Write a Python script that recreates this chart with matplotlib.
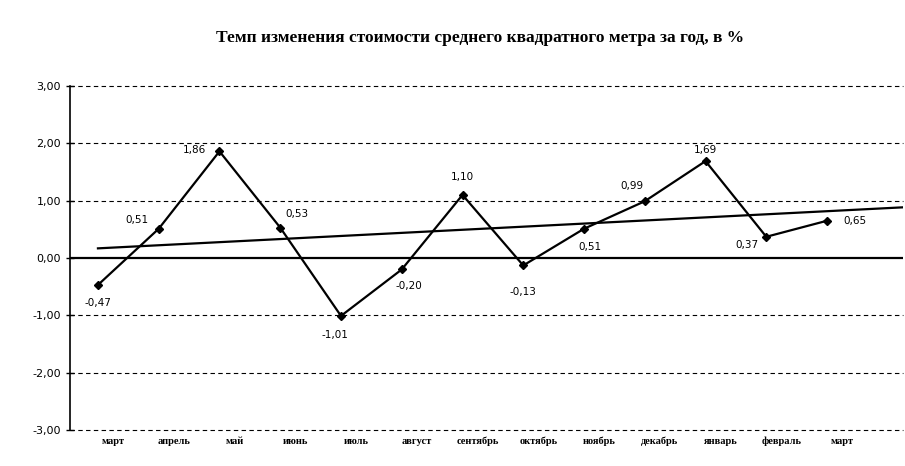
import numpy as np
import matplotlib
matplotlib.use('Agg')
import matplotlib.pyplot as plt

# months (march to march)
months = ['март', 'апрель', 'май', 'июнь', 'июль', 'август', 'сентябрь',
          'октябрь', 'ноябрь', 'декабрь', 'январь', 'февраль', 'март']
change = [-0.47, 0.51, 1.86, 0.53, -1.01, -0.20, 1.10, -0.13, 0.51, 0.99, 1.69, 0.37, 0.65]
yticks = [-3, -2, -1, 0, 1, 2, 3]

title = 'Темп изменения стоимости среднего квадратного метра за год, в %'

def comma(v):
    return ('%.2f' % v).replace('.', ',')

fig = plt.figure(figsize=(9.05, 4.66), dpi=100)
ax = fig.add_axes([70/905, 1-430/466, 833/905, (430-86)/466])

x = np.arange(len(months))
xmax = 13.25
ax.set_xlim(-0.46, xmax)
ax.set_ylim(-3, 3)

# dashed grid
for t in yticks:
    if t != 0:
        ax.axhline(t, color='black', lw=0.8, ls=(0, (4, 3)), zorder=1, clip_on=False)
ax.axhline(0, color='black', lw=1.6, zorder=2)

# linear trend
k, b = np.polyfit(x, change, 1)
tx = np.array([0, xmax])
ax.plot(tx, k*tx + b, color='black', lw=1.6, zorder=2)

ax.plot(x, change, color='black', lw=1.6, marker='D', ms=4.5, zorder=3)

# data labels
offs = [(0, -13), (-16, 6), (-18, 1), (12, 10), (-4, -14), (5, -12), (0, 13),
        (0, -19), (4, -13), (-9, 11), (0, 8), (-14, -6), (20, 0)]
for i, v in enumerate(change):
    ax.annotate(comma(v), (x[i], v), textcoords='offset points', xytext=offs[i],
                ha='center', va='center', fontsize=7.5, family='DejaVu Sans')

for s in ['top', 'right', 'bottom']:
    ax.spines[s].set_visible(False)
ax.spines['left'].set_linewidth(1.2)
ax.set_yticks(yticks)
ax.set_yticklabels([comma(t) for t in yticks], fontsize=8)
ax.tick_params(axis='y', direction='inout', length=6, width=1)
ax.set_xticks(x + 0.25)
ax.set_xticklabels(months, fontsize=7.5, family='Liberation Serif', fontweight='bold')
ax.tick_params(axis='x', length=0, pad=5)

fig.text(0.53, 1-38/466, title, ha='center', va='center', fontsize=12.5,
         family='Liberation Serif', fontweight='bold')

fig.savefig('out.png', dpi=100)
